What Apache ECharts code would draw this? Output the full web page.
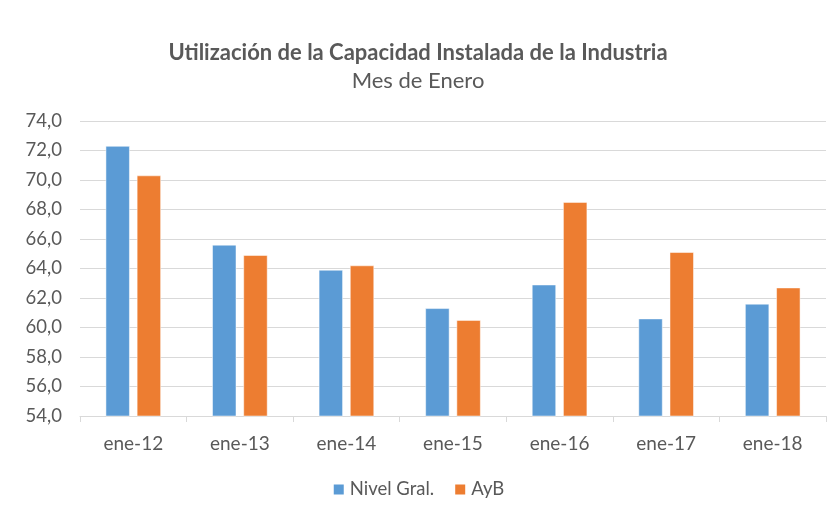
<!DOCTYPE html>
<html lang="es">
    <head>
        <meta charset="utf-8" />
        <title>Utilización de la Capacidad Instalada</title>
        <style type="text/css">
            html, body { margin: 0; padding: 0; background: #fff; }
            #chart { width: 836px; height: 514px; }
        </style>
    </head>
    <body>
        <div id="chart"></div>
        <script src="https://cdn.jsdelivr.net/npm/echarts@6/dist/echarts.min.js"></script>
        <script>
            // datos
            const categories = ['ene-12', 'ene-13', 'ene-14', 'ene-15', 'ene-16', 'ene-17', 'ene-18'];
            const nivelGral = [72.3, 65.6, 63.9, 61.3, 62.9, 60.6, 61.6];
            const ayb = [70.3, 64.9, 64.2, 60.5, 68.5, 65.1, 62.7];

            const font = 'Lato, "Open Sans", sans-serif';
            const txt = '#595959';

            let chart = echarts.init(document.querySelector('#chart'));

            const option = {
                animation: false,
                color: ['#5b9bd5', '#ed7d31'],
                title: {
                    text: 'Utilización de la Capacidad Instalada de la Industria',
                    subtext: 'Mes de Enero',
                    left: 'center',
                    top: 37,
                    itemGap: 6,
                    textStyle: { fontFamily: font, fontSize: 22, fontWeight: 'bold', color: txt },
                    subtextStyle: { fontFamily: font, fontSize: 22, color: txt }
                },
                legend: {
                    bottom: 10,
                    left: 'center',
                    itemWidth: 12,
                    itemHeight: 12,
                    itemGap: 19,
                    icon: 'rect',
                    textStyle: { fontFamily: font, fontSize: 18.5, color: txt }
                },
                grid: { left: 80, right: 10, top: 121, bottom: 98, containLabel: false },
                xAxis: {
                    type: 'category',
                    data: categories,
                    axisLine: { lineStyle: { color: '#d9d9d9' } },
                    axisTick: { show: true, length: 6, lineStyle: { color: '#d9d9d9' } },
                    axisLabel: { fontFamily: font, fontSize: 19, color: txt, margin: 18 }
                },
                yAxis: {
                    type: 'value',
                    min: 54,
                    max: 74,
                    interval: 2,
                    axisLine: { show: false },
                    axisTick: { show: false },
                    axisLabel: {
                        fontFamily: font, fontSize: 18.5, color: txt, margin: 18,
                        formatter: (v) => v.toFixed(1).replace('.', ',')
                    },
                    splitLine: { lineStyle: { color: '#d9d9d9', width: 1 } }
                },
                series: [
                    {
                        name: 'Nivel Gral.',
                        type: 'bar',
                        data: nivelGral,
                        barWidth: 24,
                        barGap: '30%',
                        itemStyle: { borderColor: '#fff', borderWidth: 0.5 }
                    },
                    {
                        name: 'AyB',
                        type: 'bar',
                        data: ayb,
                        barWidth: 24,
                        barGap: '30%',
                        itemStyle: { borderColor: '#fff', borderWidth: 0.5 }
                    }
                ]
            };

            chart.setOption(option);
        </script>
    </body>
</html>
